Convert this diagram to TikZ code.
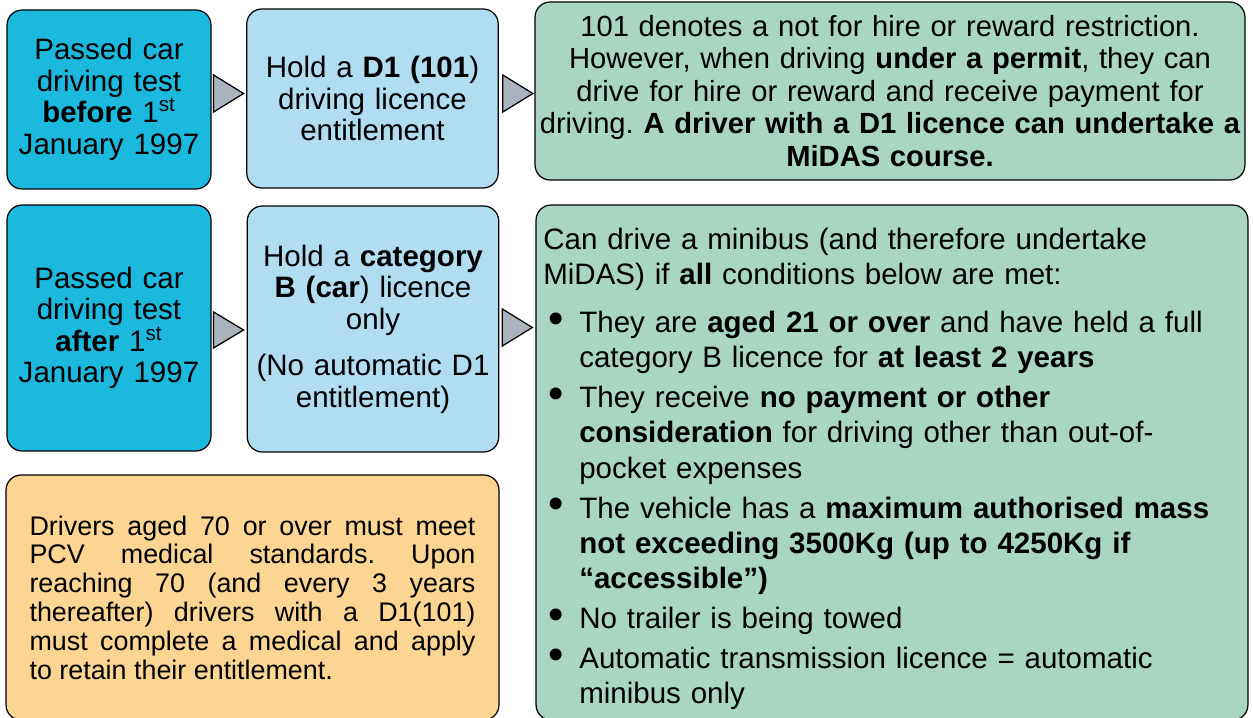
\documentclass[tikz,border=0pt]{standalone}
\usepackage{xcolor}
\usepackage{fontspec}
\setmainfont{Liberation Sans}
\usepackage{tikz}
\usetikzlibrary{calc}
\usetikzlibrary{positioning}
\definecolor{passblue}{HTML}{1CB9DF}
\definecolor{holdblue}{HTML}{B0DEF0}
\definecolor{notegreen}{HTML}{A9D6C2}
\definecolor{ageorange}{HTML}{FDD593}
\definecolor{chevgrey}{HTML}{ABB3BF}
\tikzset{box/.style = {rectangle, draw=black, line width=0.7pt, rounded corners=0.3cm, inner sep=0}}
\tikzset{passbox/.style = {box, fill=passblue, minimum width=4.08cm, text width=3.9cm, align=center, font=\fontsize{16.8}{17.9}\selectfont}}
\tikzset{holdbox/.style = {box, fill=holdblue, minimum width=5.03cm, text width=4.9cm, align=center, font=\fontsize{16.8}{17.9}\selectfont}}
\tikzset{notebox/.style = {box, fill=notegreen}}
\tikzset{agebox/.style = {box, fill=ageorange, minimum width=9.86cm, minimum height=4.9cm, text width=8.92cm, align=justify, font=\fontsize{15.3}{16.4}\selectfont}}
\tikzset{chev/.style = {fill=chevgrey, draw=black, line width=0.7pt, line join=miter}}
\newcommand{\bulitem}[2]{\par\prevdepth=\dp\strutbox\vspace{#1}\noindent\makebox[0.72cm][l]{\hspace{0.1cm}\raisebox{-0.05ex}{\fontsize{25}{25}\selectfont\textbullet}}\parbox[t]{13.2cm}{\raggedright #2\strut}}

\begin{document}
\begin{tikzpicture}[x=0.02cm, y=-0.02cm]
\useasboundingbox (0,0) rectangle (1253,717);
% first row: before 1997
\node [passbox, minimum height=3.58cm] (P1) at (109, 99.5) {Passed car\\ driving test\\ \textbf{before} 1\textsuperscript{st}\\ January 1997};
\node [holdbox, minimum height=3.58cm] (H1) at (372.5, 98.5) {Hold a \textbf{D1 (101}) driving licence\\ entitlement};
\node [notebox, minimum width=14.2cm, minimum height=3.56cm, text width=14.2cm, align=center, font=\fontsize{16.6}{18.5}\selectfont\frenchspacing] (N1) at (890, 91) {101 denotes a not for hire or reward restriction.\\ However, when driving \textbf{under a permit}, they can\\ drive for hire or reward and receive payment for\\ driving. \textbf{A driver with a D1 licence can undertake a}\\ \textbf{MiDAS course.}};
% second row: after 1997
\node [passbox, minimum height=4.92cm] (P2) at (109, 328) {Passed car\\ driving test\\ \textbf{after} 1\textsuperscript{st}\\ January 1997};
\node [holdbox, minimum height=4.92cm] (H2) at (373, 329) {Hold a \textbf{category}\\ \textbf{B (car}) licence\\ only\\[8.5pt] (No automatic D1\\ entitlement)};
\node [notebox, minimum width=14.24cm, minimum height=10.3cm, text width=13.95cm, align=left, font=\fontsize{16.8}{20}\selectfont] (N2) at (892, 462.5) {\rule{0pt}{22.2pt}Can drive a minibus (and therefore undertake\\ MiDAS) if \textbf{all} conditions below are met:
\bulitem{9.6pt}{They are \textbf{aged 21 or over} and have held a full\\ category B licence for \textbf{at least 2 years}}
\bulitem{2.8pt}{They receive \textbf{no payment or other}\\ \textbf{consideration} for driving other than out-of-\\ pocket expenses}
\bulitem{2.8pt}{The vehicle has a \textbf{maximum authorised mass}\\ \textbf{not exceeding 3500Kg (up to 4250Kg if}\\ \textbf{“accessible”)}}
\bulitem{2.8pt}{No trailer is being towed}
\bulitem{2.8pt}{Automatic transmission licence = automatic\\ minibus only}\par};
% medical note
\node [agebox] (AG) at (252.5, 597.5) {\frenchspacing Drivers aged 70 or over must meet\linebreak PCV medical standards. Upon\linebreak reaching 70 (and every 3 years\linebreak thereafter) drivers with a D1(101)\linebreak must complete a medical and apply\linebreak to retain their entitlement.};
% pointers between boxes
\filldraw [chev] ($(P1.east)+(2,-24.5)$) -- ++(30,18.5) -- ++(-30,18.5) -- cycle;
\filldraw [chev] ($(H1.east)+(4,-23.5)$) -- ++(30,18.5) -- ++(-30,18.5) -- cycle;
\filldraw [chev] ($(P2.east)+(2,-16)$) -- ++(30,18) -- ++(-30,18) -- cycle;
\filldraw [chev] ($(H2.east)+(3,-20)$) -- ++(30,18.5) -- ++(-30,18.5) -- cycle;
\end{tikzpicture}
\end{document}
